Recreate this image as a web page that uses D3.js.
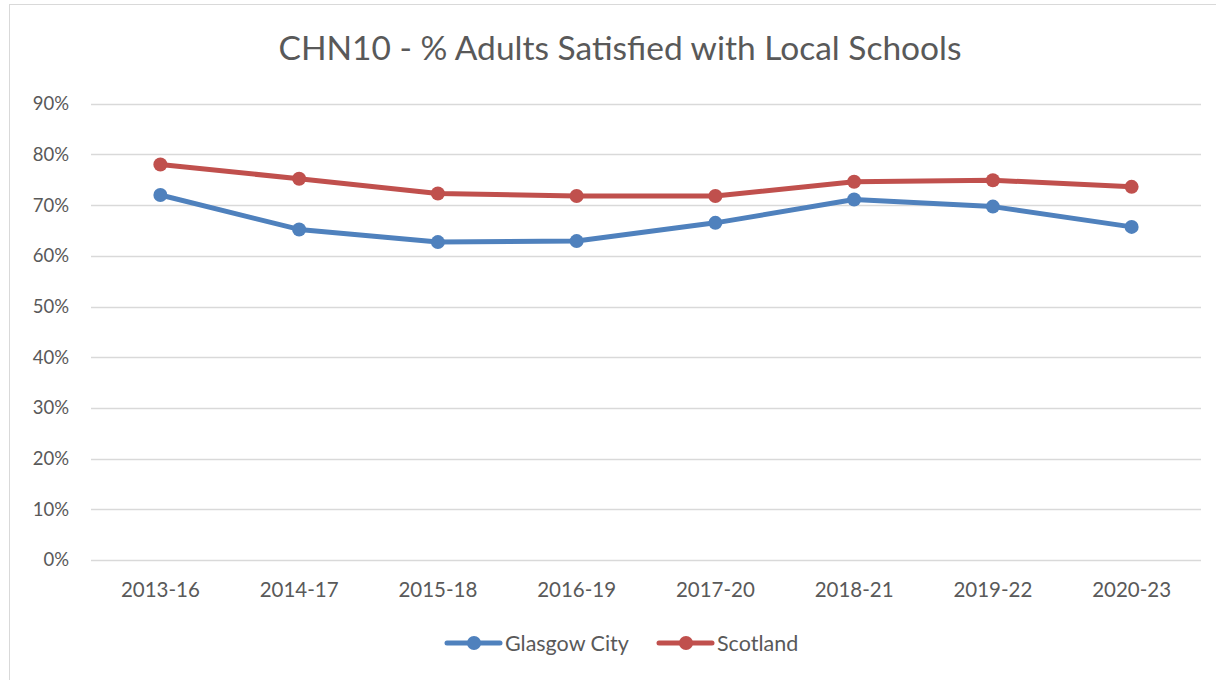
<!DOCTYPE html>
<html><head><meta charset="utf-8">
<script src="https://cdn.jsdelivr.net/npm/d3@7"></script>
<style>html,body{margin:0;padding:0;background:#fff;} svg{display:block;}</style>
</head><body>
<svg id="chart" width="1216" height="680"></svg>
<script>
const categories = ["2013-16","2014-17","2015-18","2016-19","2017-20","2018-21","2019-22","2020-23"];
const glasgow = [72.0, 65.2, 62.7, 62.9, 66.5, 71.1, 69.7, 65.7];
const scotland = [78.0, 75.2, 72.3, 71.8, 71.8, 74.6, 74.9, 73.6];
const yTicks = [0,10,20,30,40,50,60,70,80,90];
const seriesNames = ["Glasgow City","Scotland"];
const seriesColors = ["#4F81BD","#C0504D"];
const chartTitle = "CHN10 - % Adults Satisfied with Local Schools";

(function(){
const svg = d3.select("#chart");
const font = "Lato, 'Open Sans', sans-serif";
const textColor = "#595959";

svg.append("rect").attr("x",9.5).attr("y",4.5).attr("width",1220).attr("height",690)
  .attr("fill","#fff").attr("stroke","#D9D9D9");

const pLeft = 91, pRight = 1201, pTop = 103.7, pBottom = 560;
const x = d3.scaleBand().domain(categories).range([pLeft,pRight]);
const y = d3.scaleLinear().domain([0,90]).range([pBottom,pTop]);

svg.append("text").attr("x",620).attr("y",60).attr("text-anchor","middle")
  .attr("font-family",font).attr("font-size",33.5).attr("fill",textColor).text(chartTitle);

const grid = svg.append("g");
grid.selectAll("line").data(yTicks).join("line")
  .attr("x1",pLeft).attr("x2",pRight)
  .attr("y1",d=>Math.round(y(d))+0.5).attr("y2",d=>Math.round(y(d))+0.5)
  .attr("stroke","#D9D9D9").attr("stroke-width",1.5);

const yAxis = d3.axisLeft(y).tickValues(yTicks).tickFormat(d=>d+"%").tickSize(0).tickPadding(0);
const yg = svg.append("g").attr("transform",`translate(${pLeft-22},0)`).call(yAxis);
yg.select(".domain").remove();
yg.selectAll("text").attr("font-family",font).attr("font-size",18.5).attr("fill",textColor);

const xAxis = d3.axisBottom(x).tickSize(0).tickPadding(0);
const xg = svg.append("g").attr("transform",`translate(0,${pBottom+22})`).call(xAxis);
xg.select(".domain").remove();
xg.selectAll("text").attr("font-family",font).attr("font-size",20.5).attr("fill",textColor);

const line = d3.line().x((d,i)=>x(categories[i])+x.bandwidth()/2).y(d=>y(d));
[glasgow, scotland].forEach((s,k)=>{
  const g = svg.append("g");
  g.append("path").datum(s).attr("d",line).attr("fill","none")
    .attr("stroke",seriesColors[k]).attr("stroke-width",5).attr("stroke-linejoin","round").attr("stroke-linecap","round");
  g.selectAll("circle").data(s).join("circle")
    .attr("cx",(d,i)=>x(categories[i])+x.bandwidth()/2).attr("cy",d=>y(d)).attr("r",7)
    .attr("fill",seriesColors[k]);
});

const legendX = [447, 659];
seriesNames.forEach((name,k)=>{
  const g = svg.append("g").attr("transform",`translate(${legendX[k]},643)`);
  g.append("line").attr("x1",0).attr("x2",53).attr("y1",0).attr("y2",0)
    .attr("stroke",seriesColors[k]).attr("stroke-width",5).attr("stroke-linecap","round");
  g.append("circle").attr("cx",27).attr("cy",0).attr("r",7).attr("fill",seriesColors[k]);
  g.append("text").attr("x",58).attr("y",7.5).attr("font-family",font).attr("font-size",21.5)
    .attr("fill",textColor).text(name);
});
})();
</script>
</body></html>
